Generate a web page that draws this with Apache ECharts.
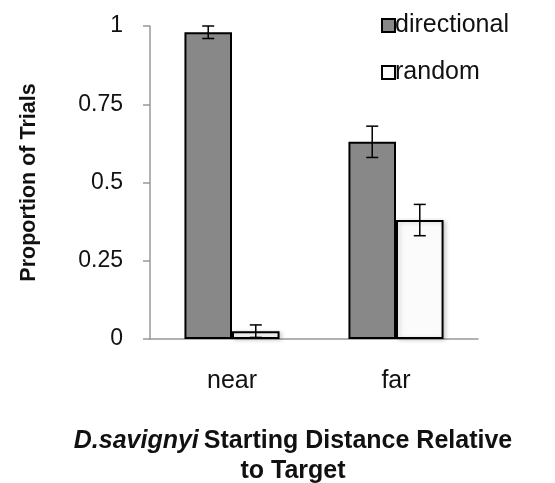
<!DOCTYPE html>
<html>
<head>
<meta charset="utf-8">
<script src="https://cdn.jsdelivr.net/npm/echarts@6/dist/echarts.min.js"></script>
<style>html,body{margin:0;padding:0;background:#fff;}#c{width:555px;height:483px;}</style>
</head>
<body>
<div id="c"></div>
<script>
var categories = ['near', 'far'];
var directional = [0.98, 0.63];
var directionalErr = [0.02, 0.05];
var random = [0.025, 0.38];
var randomErr = [0.02, 0.05];
var yTicks = [0, 0.25, 0.5, 0.75, 1];

var FONT = "'Liberation Sans', Arial, Helvetica, sans-serif";
var BAR_FRAC = 0.29;

function errData(vals, errs, g) {
  return vals.map(function (v, i) { return [i, v - errs[i], v + errs[i], g]; });
}

function renderErr(params, api) {
  var band = api.size([1, 0])[0];
  var w = band * BAR_FRAC;
  var g = api.value(3);
  var off = g === 0 ? -w / 2 : w / 2;
  var lo = api.coord([api.value(0), api.value(1)]);
  var hi = api.coord([api.value(0), api.value(2)]);
  var x = lo[0] + off;
  var cap = 6;
  var st = { stroke: '#000', lineWidth: 1.5 };
  return {
    type: 'group',
    children: [
      { type: 'line', shape: { x1: x, y1: lo[1], x2: x, y2: hi[1] }, style: st },
      { type: 'line', shape: { x1: x - cap, y1: lo[1], x2: x + cap, y2: lo[1] }, style: st },
      { type: 'line', shape: { x1: x - cap, y1: hi[1], x2: x + cap, y2: hi[1] }, style: st }
    ]
  };
}

var chart = echarts.init(document.getElementById('c'), null, { renderer: 'canvas' });
chart.setOption({
  animation: false,
  backgroundColor: '#fff',
  textStyle: { fontFamily: FONT },
  grid: { left: 150, right: 77, top: 26, bottom: 144, containLabel: false, outerBoundsMode: 'none' },
  title: {
    text: '{i|D.savignyi} {b|Starting Distance Relative}\n{b|to Target}',
    left: 293,
    top: 426,
    textAlign: 'center',
    padding: 0,
    textStyle: {
      lineHeight: 30,
      rich: {
        i: { fontSize: 25, fontWeight: 'bold', fontStyle: 'italic', color: '#111', fontFamily: FONT, lineHeight: 30 },
        b: { fontSize: 25, fontWeight: 'bold', color: '#111', fontFamily: FONT, lineHeight: 30 }
      }
    }
  },
  legend: {
    orient: 'vertical',
    left: 376,
    top: 8,
    itemWidth: 13,
    itemHeight: 13,
    itemGap: 22,
    icon: 'rect',
    textStyle: { fontSize: 25, color: '#111', fontFamily: FONT, padding: [16, 0, 0, -5] },
    data: ['directional', 'random']
  },
  xAxis: {
    type: 'category',
    data: categories,
    axisLine: { lineStyle: { color: '#999', width: 1.5 } },
    axisTick: { length: 7, lineStyle: { color: '#999', width: 1.5 } },
    axisLabel: { fontSize: 25, color: '#111', margin: 30, fontFamily: FONT }
  },
  yAxis: {
    type: 'value',
    min: 0,
    max: 1,
    interval: 0.25,
    splitLine: { show: false },
    axisLine: { show: true, lineStyle: { color: '#999', width: 1.5 } },
    axisTick: { show: true, length: 7, lineStyle: { color: '#999', width: 1.5 } },
    axisLabel: {
      fontSize: 23, color: '#111', margin: 27, fontFamily: FONT,
      formatter: function (v) { return String(yTicks[Math.round(v / 0.25)]); }
    },
    name: 'Proportion of Trials',
    nameLocation: 'middle',
    nameGap: 110,
    nameTextStyle: { fontSize: 21.5, fontWeight: 'bold', color: '#111', fontFamily: FONT }
  },
  series: [
    {
      name: 'directional',
      type: 'bar',
      data: directional,
      barWidth: (BAR_FRAC * 100) + '%',
      barGap: '0%',
      itemStyle: { color: '#888888', borderColor: '#000', borderWidth: 2 }
    },
    {
      name: 'random',
      type: 'bar',
      data: random,
      barWidth: (BAR_FRAC * 100) + '%',
      barGap: '0%',
      itemStyle: { color: '#fbfbfb', borderColor: '#000', borderWidth: 2, shadowColor: 'rgba(0,0,0,0.18)', shadowBlur: 4, shadowOffsetX: 2, shadowOffsetY: 1 }
    },
    {
      type: 'custom',
      renderItem: renderErr,
      data: errData(directional, directionalErr, 0),
      encode: { x: 0, y: [1, 2] },
      z: 5,
      silent: true
    },
    {
      type: 'custom',
      renderItem: renderErr,
      data: errData(random, randomErr, 1),
      encode: { x: 0, y: [1, 2] },
      z: 5,
      silent: true
    }
  ]
});
</script>
</body>
</html>
